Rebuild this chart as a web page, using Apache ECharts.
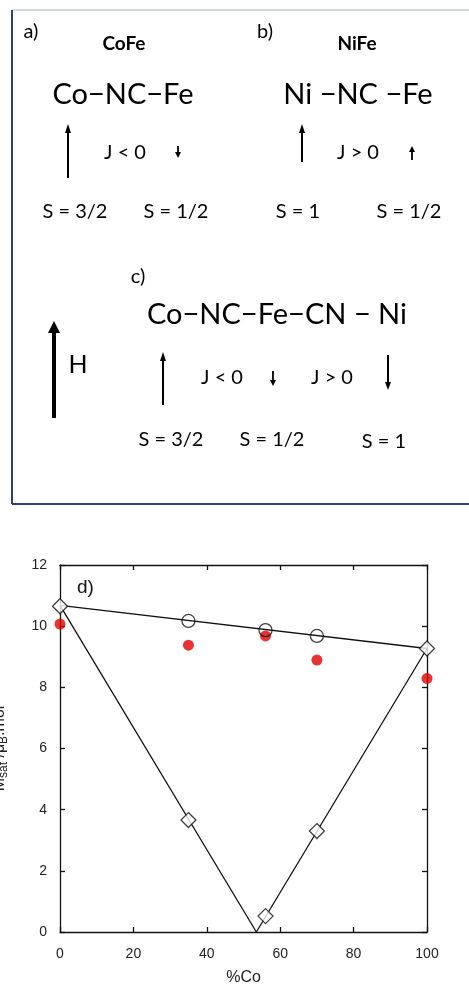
<!DOCTYPE html>
<html>
<head>
<meta charset="utf-8">
<script src="https://cdn.jsdelivr.net/npm/echarts@6/dist/echarts.min.js"></script>
<style>
  html, body { margin: 0; padding: 0; background: #fff; }
  #main { width: 469px; height: 986px; }
</style>
</head>
<body>
<div id="main"></div>
<script>
// panel d data: %Co vs Msat
var xTicks = [0, 20, 40, 60, 80, 100];
var yTicks = [0, 2, 4, 6, 8, 10, 12];
var diamondX = [0, 35, 56, 70, 100];
var diamondY = [10.65, 3.66, 0.52, 3.3, 9.27];
var circleX = [35, 56, 70];
var circleY = [10.17, 9.87, 9.68];
var redX = [0, 35, 56, 70, 100];
var redY = [10.07, 9.38, 9.68, 8.89, 8.29];
var topLineX = [0, 100];
var topLineY = [10.68, 9.27];
var vLineX = [0, 53.5, 100];
var vLineY = [10.68, 0, 9.27];

function pairs(xs, ys) {
  return xs.map(function (x, i) { return [x, ys[i]]; });
}

var chart = echarts.init(document.getElementById('main'));

var diaFont = 'Lato, "Open Sans", sans-serif';
var navy = '#2e4170';

function txt(x, y, s, size, bold) {
  return {
    type: 'text', x: x, y: y,
    style: {
      text: s, fill: '#000', font: (bold ? 'bold ' : '') + size + 'px ' + diaFont,
      align: 'center', verticalAlign: 'middle'
    }
  };
}

// arrow from tail (x,y1) to head (x,y2)
function arrow(x, y1, y2, lw, hw, hh) {
  var dir = y2 < y1 ? 1 : -1;
  return {
    type: 'group',
    children: [
      { type: 'line', shape: { x1: x, y1: y1, x2: x, y2: y2 + dir * hh * 0.8 },
        style: { stroke: '#000', lineWidth: lw } },
      { type: 'polygon', shape: { points: [[x, y2], [x - hw / 2, y2 + dir * hh], [x + hw / 2, y2 + dir * hh]] },
        style: { fill: '#000' } }
    ]
  };
}

var graphics = [
  // box around a-c
  { type: 'line', shape: { x1: 12, y1: 10, x2: 469, y2: 10 }, style: { stroke: '#c5cad5', lineWidth: 1.5 } },
  { type: 'line', shape: { x1: 12, y1: 10, x2: 12, y2: 504 }, style: { stroke: navy, lineWidth: 2 } },
  { type: 'line', shape: { x1: 12, y1: 504, x2: 469, y2: 504 }, style: { stroke: navy, lineWidth: 2 } },

  txt(31, 32, 'a)', 20),
  txt(124, 44, 'CoFe', 19, true),
  txt(265, 32, 'b)', 20),
  txt(357, 44, 'NiFe', 19, true),

  txt(123, 95, 'Co\u2212NC\u2212Fe', 29),
  txt(358, 95, 'Ni \u2212NC \u2212Fe', 29),

  arrow(68, 178, 124, 2, 6, 9),
  txt(125, 153, 'J < 0', 20),
  arrow(178, 146, 158, 1.8, 6, 6),
  arrow(302, 162, 124, 2, 6, 9),
  txt(358, 153, 'J > 0', 20),
  arrow(412, 160, 146, 1.8, 6, 6),

  txt(75, 212, 'S = 3/2', 20),
  txt(176, 212, 'S = 1/2', 20),
  txt(298, 212, 'S = 1', 20),
  txt(409, 212, 'S = 1/2', 20),

  txt(138, 277, 'c)', 20),
  txt(277, 315, 'Co\u2212NC\u2212Fe\u2212CN \u2212 Ni', 29),
  arrow(54, 418, 321, 4, 12, 12),
  txt(78, 365, 'H', 25),
  arrow(163, 405, 352, 2, 6, 9),
  txt(222, 378, 'J < 0', 20),
  arrow(273, 371, 386, 1.8, 6, 6),
  txt(332, 378, 'J > 0', 20),
  arrow(388, 355, 390, 2, 6, 8),
  txt(171, 440, 'S = 3/2', 20),
  txt(272, 440, 'S = 1/2', 20),
  txt(384, 442, 'S = 1', 20),

  // panel d label
  { type: 'text', x: 77, y: 588,
    style: { text: 'd)', fill: '#111', font: '19px "Liberation Sans", Arial, sans-serif', verticalAlign: 'middle' } }
];

var axisFont = '"Liberation Sans", Arial, Helvetica, sans-serif';
var lineStyleAxis = { color: '#111', width: 1.3 };

function xAx(pos, labels) {
  return {
    type: 'value', position: pos, min: 0, max: 100, interval: 20,
    axisLine: { show: true, onZero: false, lineStyle: lineStyleAxis },
    axisTick: { show: true, inside: true, length: 5, lineStyle: lineStyleAxis },
    axisLabel: { show: labels, color: '#222', fontSize: 14, fontFamily: axisFont, margin: 15,
      customValues: xTicks },
    splitLine: { show: false }
  };
}
function yAx(pos, labels) {
  return {
    type: 'value', position: pos, min: 0, max: 12, interval: 2,
    axisLine: { show: true, onZero: false, lineStyle: lineStyleAxis },
    axisTick: { show: true, inside: true, length: 5, lineStyle: lineStyleAxis },
    axisLabel: { show: labels, color: '#222', fontSize: 14, fontFamily: axisFont, margin: 13,
      customValues: yTicks },
    splitLine: { show: false }
  };
}

var xBottom = xAx('bottom', true);
xBottom.name = '%Co';
xBottom.nameLocation = 'middle';
xBottom.nameGap = 38;
xBottom.nameTextStyle = { color: '#222', fontSize: 16, fontFamily: axisFont };

var yLeft = yAx('left', true);
yLeft.name = '{m|M}{s|sat}{m| /\u03bc}{s|B}{m|.mol}';
yLeft.nameLocation = 'middle';
yLeft.nameGap = 50;
yLeft.nameTextStyle = {
  color: '#222', fontFamily: axisFont,
  rich: {
    m: { fontSize: 16, color: '#222', fontFamily: axisFont },
    s: { fontSize: 12, color: '#222', fontFamily: axisFont, padding: [9, 0, 0, 0] }
  }
};

chart.setOption({
  animation: false,
  backgroundColor: '#fff',
  grid: { left: 60, top: 565, width: 367, height: 367, containLabel: false, outerBoundsMode: 'none' },
  xAxis: [xBottom, xAx('top', false)],
  yAxis: [yLeft, yAx('right', false)],
  graphic: graphics,
  series: [
    { type: 'line', data: pairs(topLineX, topLineY), symbol: 'none',
      lineStyle: { color: '#111', width: 1.3 }, z: 2 },
    { type: 'line', data: pairs(vLineX, vLineY), symbol: 'none',
      lineStyle: { color: '#111', width: 1.3 }, z: 2 },
    { type: 'scatter', data: pairs(redX, redY), symbol: 'circle', symbolSize: 11,
      itemStyle: { color: '#e00000' }, z: 3 },
    { type: 'scatter', data: pairs(circleX, circleY), symbol: 'circle', symbolSize: 13,
      itemStyle: { color: 'rgba(0,0,0,0)', borderColor: '#111', borderWidth: 1.3 }, z: 4 },
    { type: 'scatter', data: pairs(diamondX, diamondY), symbol: 'diamond', symbolSize: 15,
      itemStyle: { color: '#fff', borderColor: '#111', borderWidth: 1.3 }, z: 5 }
  ]
});
</script>
</body>
</html>
